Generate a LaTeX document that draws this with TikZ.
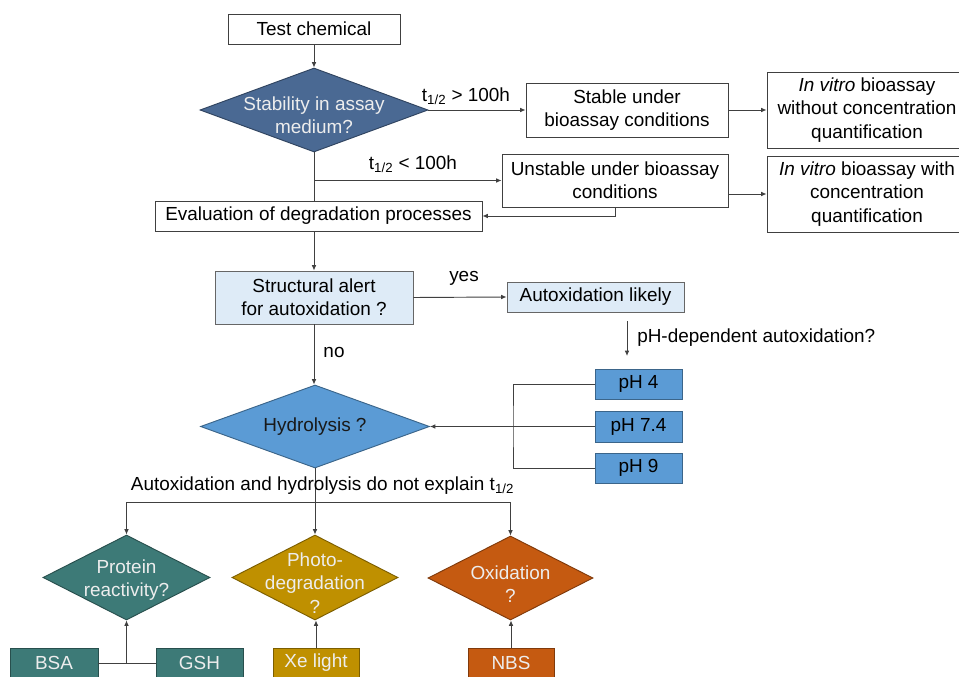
\documentclass[tikz,border=0pt]{standalone}
\usepackage{fontspec}
\setmainfont{Liberation Sans}
\usetikzlibrary{shapes.geometric,arrows.meta}
\definecolor{ln}{HTML}{404040}
\definecolor{cDark}{HTML}{4A6993}
\definecolor{cMid}{HTML}{5B9BD5}
\definecolor{cLight}{HTML}{DEEBF7}
\definecolor{cTeal}{HTML}{3D7A77}
\definecolor{cGold}{HTML}{BF9000}
\definecolor{cOrange}{HTML}{C55A11}
\definecolor{cLightText}{HTML}{EDEDED}
\tikzset{
  every node/.style={font=\fontsize{14.2}{17.5}\selectfont},
  sz/.style 2 args={minimum width=#1*0.75pt, minimum height=#2*0.75pt},
  box/.style={draw=ln, line width=0.7pt, fill=white, inner sep=0pt, align=center, rectangle},
  colbox/.style={box, fill=#1, draw=#1!65!black},
  dia/.style={diamond, inner sep=0pt, fill=#1, draw=#1!65!black, line width=0.7pt},
  dtext/.style={align=center, inner sep=0pt},
  lbl/.style={inner sep=0pt},
  conn/.style={draw=ln, line width=0.7pt},
  arr/.style={conn, -{Latex[length=4pt,width=3.5pt]}},
}
\begin{document}
\begin{tikzpicture}[x=0.75pt, y=-0.75pt]
\useasboundingbox (0,0) rectangle (959,677);
\clip (0,0) rectangle (959,677);
\fill[white] (0,0) rectangle (959,677);

% top part
\node[box, sz={172}{30}] (test) at (314,29) {Test chemical};
\node[dia=cDark, sz={228}{84}] (stab) at (314,110) {};
\node[dtext, text=cLightText] (stabt) at (314,115) {Stability in assay\\medium?};
\node[box, sz={202}{54}] (stable) at (627,110) {Stable under\\bioassay conditions};
\node[box, sz={200}{76}] (vitroA) at (867,110) {\textit{In vitro} bioassay\\without concentration\\quantification};
\node[box, sz={226}{53}] (unstable) at (615,180.5) {Unstable under bioassay\\conditions};
\node[box, sz={200}{76}] (vitroB) at (867,194) {\textit{In vitro} bioassay with\\concentration\\quantification};
\node[box, sz={327}{30}] (eval) at (318.5,216) {Evaluation of degradation processes};

\draw[arr] (test) -- (stab.north);
\draw[arr] (stab.east) -- (stable.west);
\node[lbl] (gt) at (466,96) {t\textsubscript{1/2} > 100h};
\draw[arr] (stable.east) -- (vitroA.west);
\draw[conn] (stab.south) -- (stab.south |- eval.north);
\coordinate (b1) at (stab.south |- unstable.west);
\draw[arr] (b1) -- (unstable.west);
\node[lbl] (lt) at (413,164) {t\textsubscript{1/2} < 100h};
\draw[arr] (unstable.east |- vitroB.west) -- (vitroB.west);
\draw[arr] (unstable.south) |- (eval.east);

% middle part
\node[colbox=cLight, draw=ln!80, sz={198}{53}] (struct) at (314,297.5) {Structural alert\\for autoxidation ?};
\node[colbox=cLight, draw=ln!80, sz={177}{30}] (autox) at (595.5,297) {Autoxidation likely};
\draw[arr] (struct.north |- eval.south) -- (struct.north);
\draw[arr] (struct.east) -- (autox.west);
\node[lbl] (yes) at (464,278) {yes};
\coordinate (pa) at (627,321);
\coordinate (pb) at (627,356);
\draw[arr] (pa) -- (pb);
\node[lbl, anchor=west] (phq) at (637,338) {pH-dependent autoxidation?};

\node[colbox=cMid, sz={87}{30}] (ph4) at (638.5,384) {pH 4};
\node[colbox=cMid, sz={87}{31}] (ph74) at (638.5,426.5) {pH 7.4};
\node[colbox=cMid, sz={87}{30}] (ph9) at (638.5,468) {pH 9};
\node[dia=cMid, sz={229}{83}] (hydro) at (315,426.5) {};
\node[dtext, text=black!90] (hydrot) at (315,426.5) {Hydrolysis ?};
\draw[arr] (struct.south) -- (struct.south |- hydro.north);
\node[lbl] (no) at (334,352) {no};
\coordinate (br) at (513,426.5);
\draw[conn] (ph4.west) -| (br) |- (ph9.west);
\draw[arr] (ph74.west) -- (hydro.east);

% bottom part
\node[dia=cTeal, sz={167}{85}] (prot) at (126.5,577.5) {};
\node[dtext, text=cLightText] (prott) at (126.5,580) {Protein\\reactivity?};
\node[dia=cGold, sz={166}{85}] (photo) at (315,577.5) {};
\node[dtext, text=cLightText] (photot) at (315,583) {Photo-\\degradation\\?};
\node[dia=cOrange, sz={165}{84}] (oxid) at (510.5,578) {};
\node[dtext, text=cLightText] (oxidt) at (510.5,584) {Oxidation\\?};

\coordinate (j) at (315,502);
\draw[conn] (hydro.south) -- (j);
\draw[arr] (j) -- (photo.north);
\draw[arr] (j) -| (prot.north);
\draw[arr] (j) -| (oxid.north);
\node[lbl] (expl) at (322.5,486) {Autoxidation and hydrolysis do not explain t\textsubscript{1/2}};

\node[colbox=cTeal, text=cLightText, sz={88}{30}] (bsa) at (54,663) {BSA};
\node[colbox=cTeal, text=cLightText, sz={87}{30}] (gsh) at (199.5,663) {GSH};
\node[colbox=cGold, text=cLightText, sz={86}{30}] (xe) at (316,663) {Xe light};
\node[colbox=cOrange, text=cLightText, sz={86}{30}] (nbs) at (511,663) {NBS};
\draw[conn] (bsa.east) -- (gsh.west);
\draw[arr] (prot.south |- bsa.east) -- (prot.south);
\draw[arr] (xe.north) -- (xe.north |- photo.south);
\draw[arr] (nbs.north) -- (nbs.north |- oxid.south);
\end{tikzpicture}
\end{document}
